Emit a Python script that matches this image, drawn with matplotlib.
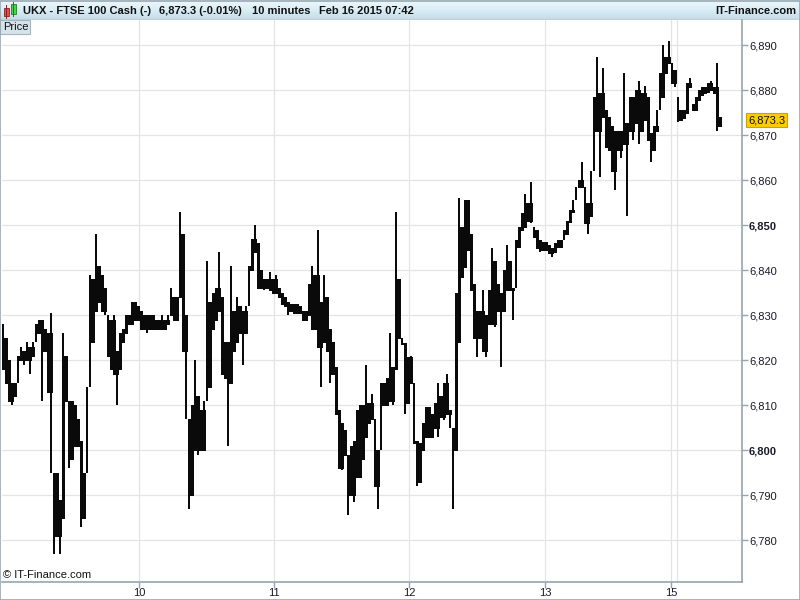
import numpy as np
import matplotlib
matplotlib.use("Agg")
import matplotlib.pyplot as plt
from matplotlib.patches import Rectangle
from matplotlib.colors import LinearSegmentedColormap
import matplotlib.transforms as mtransforms

plt.rcParams['font.family'] = ['Liberation Sans', 'DejaVu Sans']

# ---- data (10-minute bars, sampled) ----
high = [6828, 6825, 6820, 6815, 6815, 6821, 6823, 6822, 6824, 6823, 6824, 6828, 6829, 6829, 6827, 6826,
        6830.5, 6795, 6795, 6789, 6826, 6821, 6811, 6811, 6810, 6807, 6802, 6795, 6814, 6839,
        6838, 6848, 6841, 6839, 6836, 6830, 6829, 6830, 6822, 6826, 6827, 6830, 6830, 6833, 6833, 6832,
        6831, 6830, 6830, 6830, 6830, 6829, 6829, 6830, 6829, 6830, 6836, 6834, 6834, 6853,
        6848, 6830, 6807, 6810, 6820, 6812, 6809, 6811, 6842, 6833, 6835, 6836, 6844, 6834, 6824, 6824,
        6841, 6831, 6834, 6832, 6831, 6832, 6841, 6847, 6850, 6846, 6840, 6838, 6838, 6839.5,
        6838, 6839, 6836, 6835, 6834, 6833, 6832.5, 6832.5, 6832.5, 6832, 6831, 6831, 6837, 6841, 6839, 6849,
        6833, 6839, 6834, 6827, 6824, 6818.5, 6809, 6806, 6804.5, 6799, 6801, 6802, 6809, 6810,
        6810, 6819, 6810.5, 6812.5, 6807, 6800, 6815, 6815, 6816, 6826, 6818.5, 6853, 6838, 6825, 6823.7, 6820.7,
        6821, 6815, 6802, 6801.5, 6806, 6809.6, 6809.6, 6808, 6810.4, 6815, 6812, 6815, 6817, 6809, 6805, 6835,
        6856, 6849.6, 6855.6, 6855.6, 6848, 6837, 6831, 6831, 6835.6, 6830, 6835.6, 6845, 6842, 6837, 6835, 6840,
        6845.6, 6842, 6836, 6846.7, 6849.6, 6852.6, 6857, 6854.8, 6859.6, 6849.6, 6849, 6846.7, 6846.3, 6846.3,
        6845.6, 6844.8, 6846, 6846.7, 6846.7, 6849, 6851, 6853.3, 6855.6, 6858.5, 6860, 6864, 6858.5, 6854.8,
        6862, 6878.5, 6887.4, 6879.3, 6884.8, 6875.6, 6874, 6872, 6871, 6871, 6871, 6883.7, 6872.6, 6878.5,
        6878.5, 6880, 6882, 6879.3, 6881, 6878.5, 6870.4, 6872, 6875.6, 6883.7, 6890, 6887.4, 6891, 6886,
        6884.4, 6878.5, 6875.6, 6875.6, 6881.5, 6882.6, 6877, 6878.5, 6880, 6880.7, 6880.7, 6881.5, 6881.9,
        6880.7, 6886, 6874]
low = [6818, 6815, 6811, 6810, 6812, 6815, 6820, 6819, 6820, 6817, 6821, 6824, 6826, 6811, 6822, 6813,
       6795, 6777, 6781, 6777, 6785, 6811, 6796, 6798, 6801, 6801, 6783, 6785, 6795, 6814,
       6824, 6831, 6833, 6831, 6830, 6821, 6818, 6817, 6810, 6818, 6824, 6826, 6828, 6828, 6829, 6829,
       6827, 6827, 6826, 6827, 6827, 6827, 6827, 6827, 6827, 6828, 6830, 6829, 6829, 6834,
       6822, 6807, 6787, 6790, 6800, 6799, 6800, 6800, 6811, 6814, 6827, 6829, 6831, 6817, 6816, 6801,
       6815, 6822, 6824, 6826, 6819, 6826, 6832, 6840, 6844, 6836, 6836, 6835.5, 6836, 6835.5,
       6835, 6835, 6834, 6832.5, 6832, 6830, 6831, 6830.5, 6830.5, 6830.5, 6829, 6829, 6830, 6827, 6827, 6823,
       6814, 6824, 6822, 6815, 6817, 6808, 6796, 6795.5, 6799, 6785.5, 6790, 6788.5, 6794, 6794,
       6798, 6803, 6806, 6807, 6792, 6787, 6800, 6810, 6810, 6811, 6810, 6818, 6825, 6823.5, 6808, 6810.4,
       6815, 6801.5, 6792, 6793, 6800, 6803, 6803, 6803, 6805, 6803, 6807.4, 6806.7, 6808, 6805, 6787, 6800,
       6824, 6838.5, 6840.7, 6844.4, 6835.6, 6825, 6820.7, 6825, 6822, 6820.7, 6828, 6828, 6827.4, 6831, 6818.5, 6831,
       6835.6, 6835.6, 6829, 6836, 6845.2, 6849, 6849.6, 6851, 6850.4, 6847.4, 6845, 6844, 6844.4, 6844.4,
       6843.7, 6843, 6844, 6845.2, 6845.2, 6846.7, 6848, 6850.7, 6853, 6855.6, 6858.5, 6858.5, 6850.4, 6848.1,
       6852, 6862, 6871, 6860.7, 6874, 6867.4, 6866.7, 6862, 6857.8, 6866.7, 6865, 6868, 6852, 6871,
       6869, 6872.6, 6868, 6871, 6873.3, 6869, 6864, 6866.7, 6871, 6875.6, 6878.5, 6883.7, 6886, 6881.5,
       6880.7, 6873, 6873.3, 6873.7, 6874.8, 6880.7, 6875.6, 6875.6, 6877.8, 6879, 6879.3, 6879.6, 6880,
       6879.3, 6871, 6872]

day_labels = ['10', '11', '12', '13', '15']
day_starts = [45.33, 90.33, 135.33, 180.67, 222.67]
extra_day_start = 224.67          # Monday 16 session start (no label)
y_ticks = list(range(6780, 6891, 10))
last_price = 6873.3

title_main = "UKX - FTSE 100 Cash (-)"
title_price = "6,873.3 (-0.01%)"
title_period = "10 minutes"
title_date = "Feb 16 2015 07:42"
brand = "IT-Finance.com"

# ---- figure ----
W, H = 800, 600
fig = plt.figure(figsize=(8, 6), dpi=100)
fig.patch.set_facecolor('white')

# header bar with gradient
hax = fig.add_axes([0, 1 - 20 / H, 1, 20 / H])
cmap = LinearSegmentedColormap.from_list('hdr', ['#eef8fc', '#d9edf5', '#c3dbe7'])
grad = np.linspace(0, 1, 50).reshape(-1, 1)
hax.imshow(grad, aspect='auto', cmap=cmap, extent=[0, W, 20, 0])
hax.set_xlim(0, W)
hax.set_ylim(20, 0)
hax.axis('off')
hax.plot([0, W], [19.5, 19.5], color='#98a8b2', lw=1)
# candle icon
hax.plot([6, 6], [5, 18], color='#8a2020', lw=0.7)
hax.add_patch(Rectangle((3.5, 8), 5, 8, facecolor='#e05050', edgecolor='#902020', lw=0.6))
hax.plot([13, 13], [2, 16], color='#1a7a1a', lw=0.7)
hax.add_patch(Rectangle((10.5, 4), 5, 10, facecolor='#50d050', edgecolor='#208020', lw=0.6))
hfs = 8.0
hax.text(23, 10.5, title_main, fontsize=hfs, fontweight='bold', va='center', ha='left', color='#111111')
hax.text(159, 10.5, title_price, fontsize=hfs, fontweight='bold', va='center', ha='left', color='#111111')
hax.text(252, 10.5, title_period, fontsize=hfs, fontweight='bold', va='center', ha='left', color='#111111')
hax.text(319, 10.5, title_date, fontsize=hfs, fontweight='bold', va='center', ha='left', color='#111111')
hax.text(796, 10.5, brand, fontsize=hfs, fontweight='bold', va='center', ha='right', color='#111111')

# main plot axes
ax = fig.add_axes([2 / W, 18 / H, 740 / W, 562 / H])
hi = np.array(high, dtype=float)
lo = np.array(low, dtype=float)
n = len(hi)
x = np.arange(n)
ax.set_xlim(-0.33, 246.33)
ax.set_ylim(6770.67, 6895.56)

grid_c = '#e4e4e4'
for yv in y_ticks:
    ax.axhline(yv, color=grid_c, lw=0.9, zorder=0)
for xv in day_starts + [extra_day_start]:
    ax.axvline(xv, color=grid_c, lw=0.9, zorder=0)

# full-range bars (2 px) + 3 px body where a bar overlaps its neighbours
ax.vlines(x, lo, hi, color='#0a0a0a', lw=1.44, zorder=3, capstyle='butt', antialiased=False)
core_lo = np.full(n, np.nan)
core_hi = np.full(n, np.nan)
for i in range(n):
    segs = []
    for j in (i - 1, i + 1):
        if 0 <= j < n:
            a, b = max(lo[i], lo[j]), min(hi[i], hi[j])
            if b > a:
                segs.append((a, b))
    if segs:
        core_lo[i] = min(s[0] for s in segs)
        core_hi[i] = max(s[1] for s in segs)
m = ~np.isnan(core_lo)
ax.vlines(x[m], core_lo[m], core_hi[m], color='#0a0a0a', lw=2.16, zorder=3,
          capstyle='butt', antialiased=False)

spine_c = '#95a5ae'
for s in ['left', 'top']:
    ax.spines[s].set_visible(False)
for s in ['right', 'bottom']:
    ax.spines[s].set_color(spine_c)
    ax.spines[s].set_linewidth(1.2)

ax.yaxis.tick_right()
ax.set_yticks(y_ticks)
ax.set_yticklabels([f"{v:,}" for v in y_ticks])
for lbl, v in zip(ax.get_yticklabels(), y_ticks):
    if v % 50 == 0:
        lbl.set_fontweight('bold')
ax.tick_params(axis='y', direction='out', length=4, width=1, color=spine_c, labelsize=8,
               labelcolor='#1a1a2a', pad=1)
ax.set_xticks(day_starts)
ax.set_xticklabels(day_labels)
ax.tick_params(axis='x', direction='out', length=4, width=1, color=spine_c, labelsize=8,
               labelcolor='#1a1a2a', pad=0.5)

# last price tag
trans = mtransforms.blended_transform_factory(ax.transAxes, ax.transData)
ax.text(1.0 + 6 / 740, last_price, f"{last_price:,.1f}", transform=trans, fontsize=8,
        va='center', ha='left', color='#111111', clip_on=False,
        bbox=dict(boxstyle='square,pad=0.2', facecolor='#ffcc00', edgecolor='#c9a400', lw=0.8))

# "Price" label box
fig.patches.append(Rectangle((0, 1 - 34 / H), 30 / W, 14 / H, transform=fig.transFigure,
                             facecolor='#d6e3eb', edgecolor='#a5b4bd', lw=0.8, zorder=5))
fig.text(3 / W, 1 - 27.5 / H, "Price", fontsize=8, va='center', ha='left', color='#111111', zorder=6)

# copyright
fig.text(3 / W, 1 - 575 / H, "\u00a9 IT-Finance.com", fontsize=8, va='center', ha='left', color='#111111')

# outer frame
fig.patches.append(Rectangle((0.0006, 0.0008), 0.9988, 0.998, transform=fig.transFigure,
                             facecolor='none', edgecolor='#98a8b2', lw=1.2, zorder=10))

fig.savefig('out.png', dpi=100)
